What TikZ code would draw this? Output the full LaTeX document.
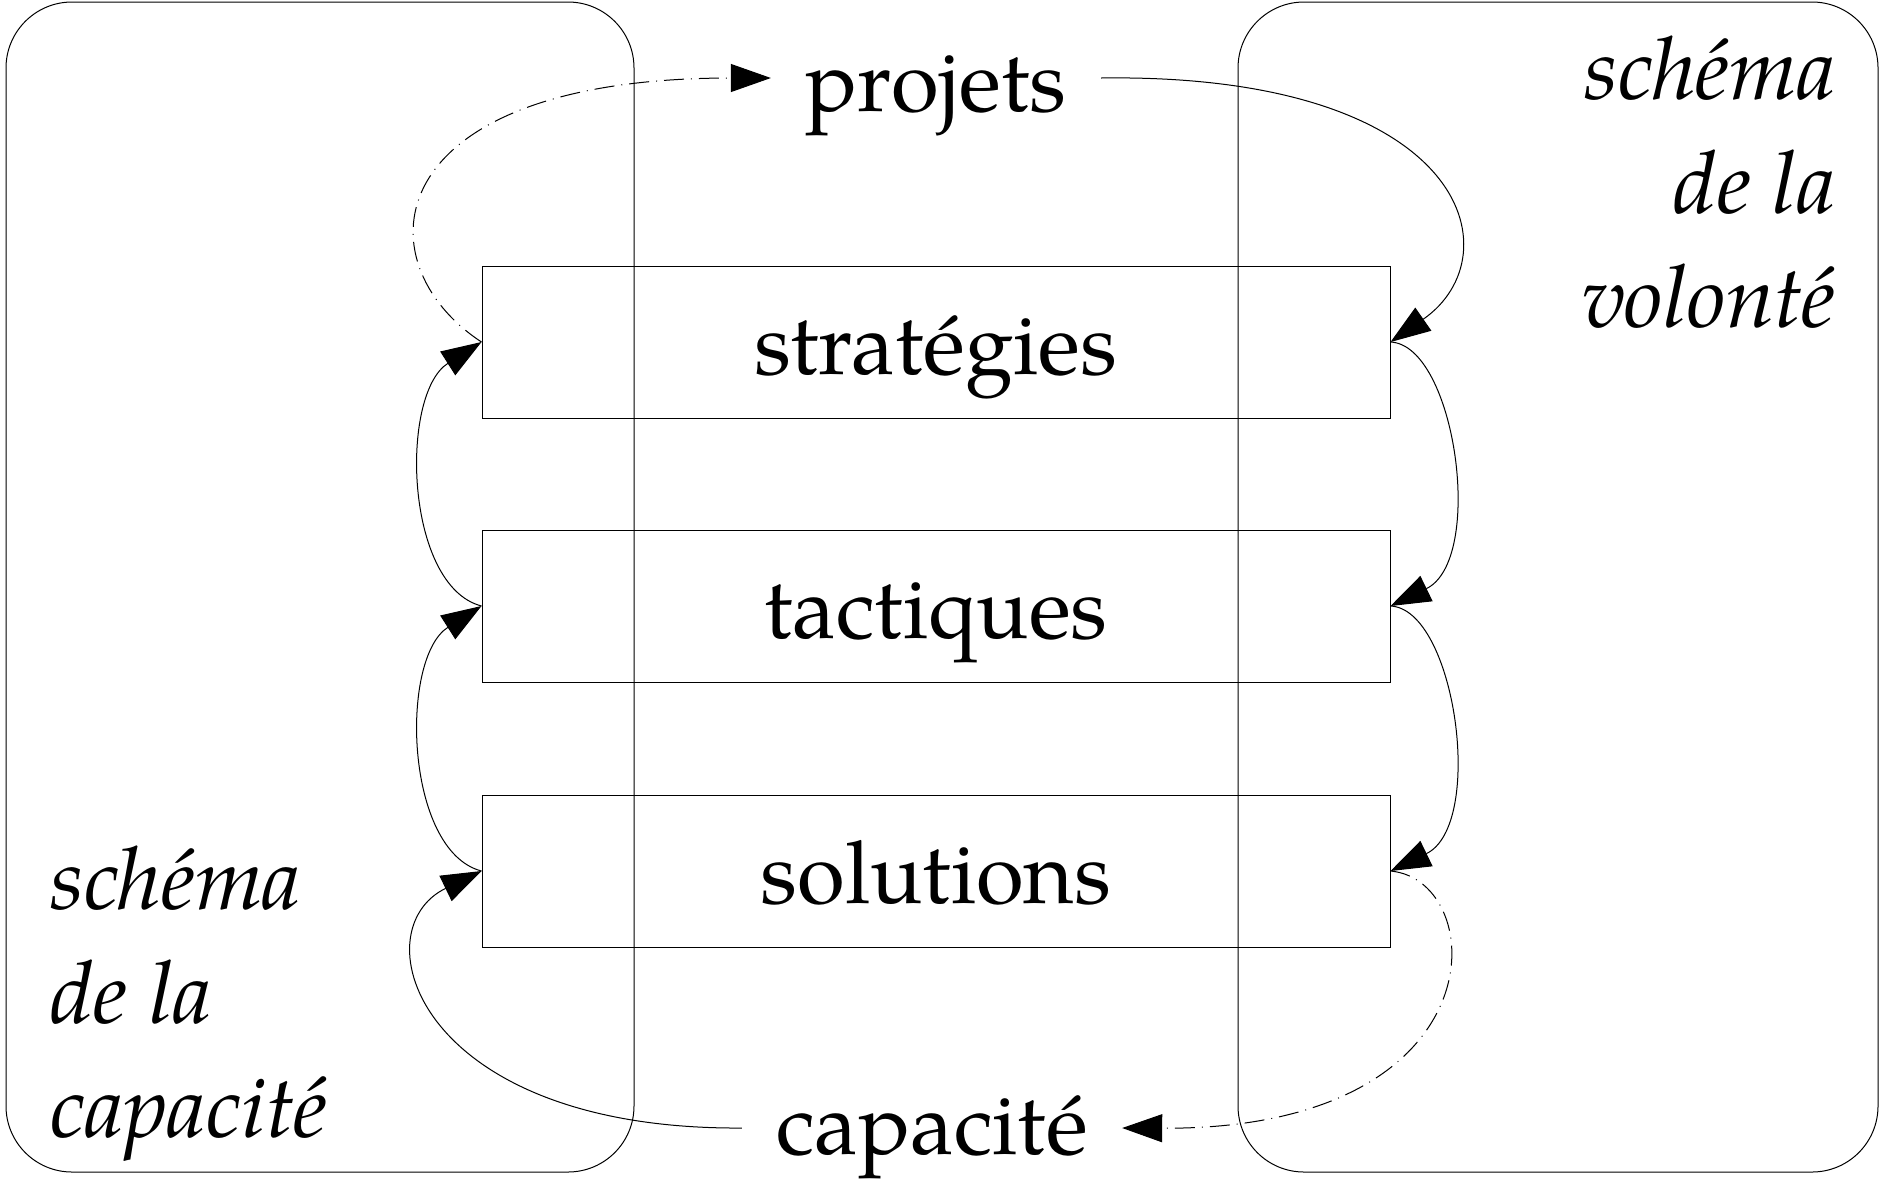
\documentclass[tikz,border=0pt]{standalone}
\usepackage{fontspec}
\setmainfont{texgyrepagella}[Extension=.otf, UprightFont=*-regular, ItalicFont=*-italic, BoldFont=*-bold, BoldItalicFont=*-bolditalic]
\usetikzlibrary{arrows.meta}
\begin{document}
\begin{tikzpicture}[x=0.5pt,y=-0.5pt,
  thin line/.style={line width=0.5pt},
  region/.style={thin line, draw, rounded corners=33pt},
  level/.style={thin line, draw, minimum width=454pt, minimum height=76pt, inner sep=0pt,
     text height=54pt, text depth=22pt, font=\fontsize{43.5}{52}\selectfont},
  word/.style={inner ysep=0pt, inner xsep=17pt, font=\fontsize{43.5}{52}\selectfont},
  label/.style={inner sep=0pt, align=#1, font=\fontsize{43.5}{57}\selectfont\itshape},
  arr/.style={thin line, -{Triangle[length=20pt,width=14pt]}},
  dashdot/.style={dash pattern=on 10pt off 3.5pt on 0.5pt off 3.5pt}
]
\useasboundingbox (0,0) rectangle (1882,1179);
% regions
\draw[region] (6,2) rectangle (634,1172);
\draw[region] (1238,2) rectangle (1878,1172);
% levels
\node[level] (strat) at (936,342) {stratégies};
\node[level] (tact) at (936,606) {tactiques};
\node[level] (sol) at (936,871) {solutions};
% words
\node[word, anchor=base] (proj) at (936,111) {projets};
\node[word, anchor=base] (cap) at (932,1154) {capacité};
% labels
\node[label=right, anchor=base east] (volonte) at (1836,327) {schéma\\de la\\volonté};
\node[label=left, anchor=base west] (capacite) at (50,1137) {schéma\\de la\\capacité};
% connectors
\draw[arr] (tact.west) .. controls +(-77,-20) and +(-82,52) .. (strat.west);
\draw[arr] (sol.west) .. controls +(-77,-20) and +(-82,52) .. (tact.west);
\draw[arr] (strat.east) .. controls +(65,3) and +(95,-46) .. (tact.east);
\draw[arr] (tact.east) .. controls +(65,3) and +(95,-46) .. (sol.east);
\draw[arr, dashdot] (strat.west) .. controls +(-122,-80) and +(-394,0) .. ([yshift=16.5pt]proj.base west);
\draw[arr] ([yshift=16.5pt]proj.base east) .. controls +(366,-5) and +(125,-87) .. (strat.east);
\draw[arr, dashdot] (sol.east) .. controls +(100,9) and +(380,2) .. ([yshift=13pt]cap.base east);
\draw[arr] ([yshift=13pt]cap.base west) .. controls +(-326,2) and +(-122,59) .. (sol.west);
\end{tikzpicture}
\end{document}
